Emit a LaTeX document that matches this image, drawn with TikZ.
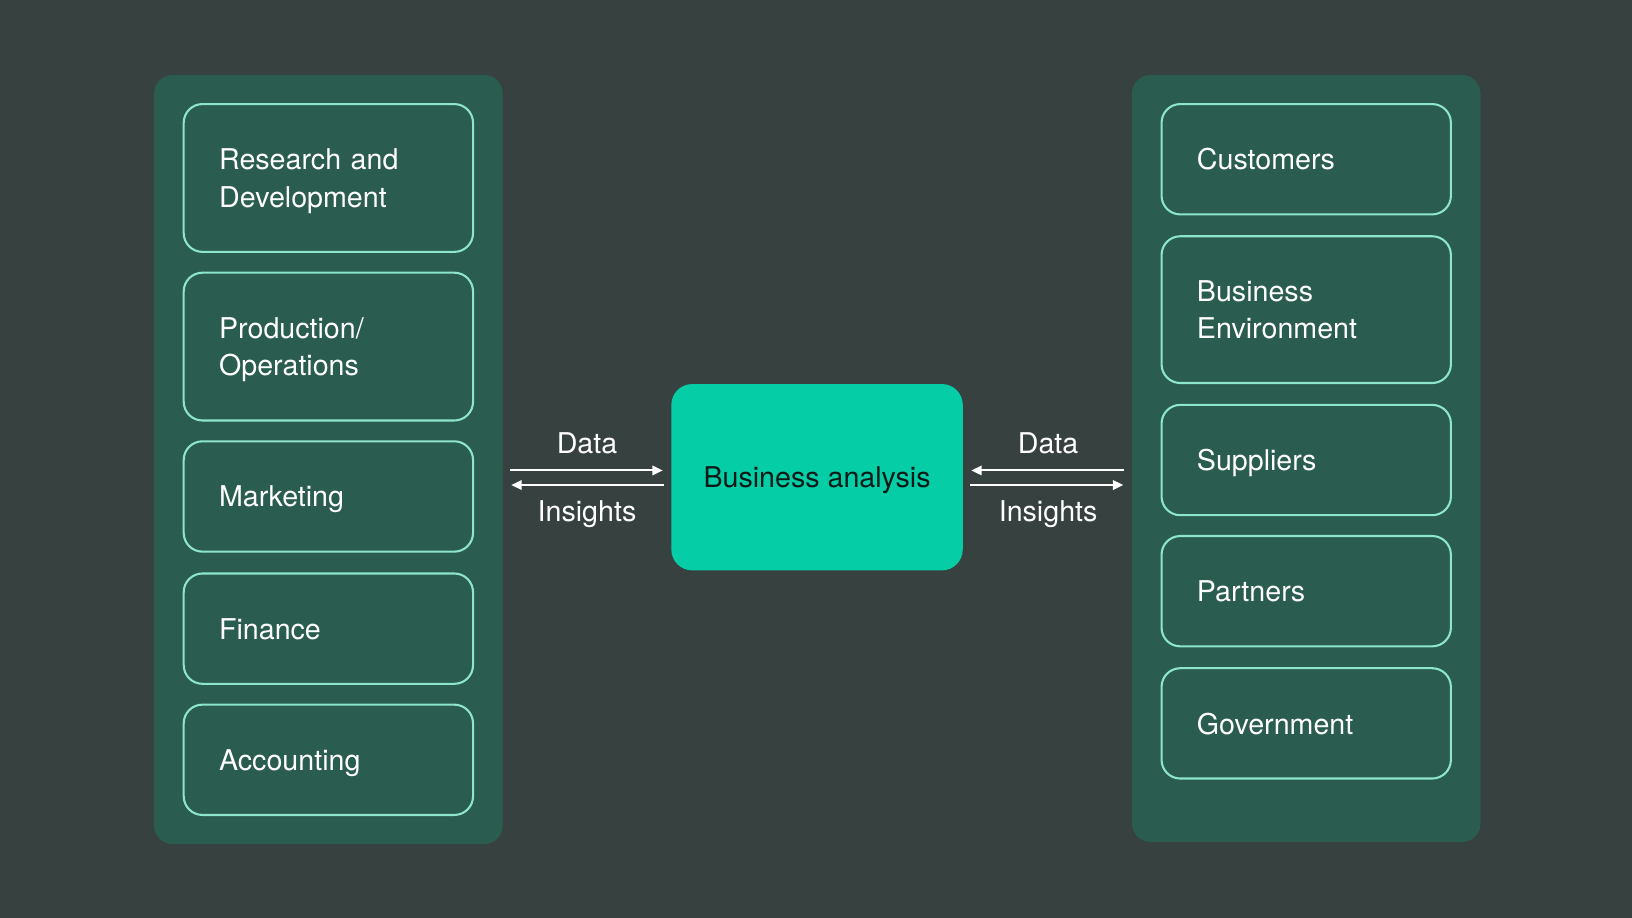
\documentclass[tikz,border=0pt]{standalone}
\usepackage{fontspec}
\setmainfont{TeX Gyre Heros}
\usetikzlibrary{arrows.meta}
\definecolor{bgdark}{HTML}{374140}
\definecolor{panelgreen}{HTML}{2A5C50}
\definecolor{mintline}{HTML}{8EE6CA}
\definecolor{tealfill}{HTML}{05CEA6}
\definecolor{inktext}{HTML}{0B1A17}
\tikzset{
  panel/.style={fill=panelgreen, rounded corners=18pt, minimum width=335pt, minimum height=739pt},
  unitbox/.style={draw=mintline, line width=2pt, rounded corners=18pt, text=white, align=left,
    text width=210pt, inner xsep=34pt, inner ysep=2pt, text depth=0pt, font=\fontsize{27.5}{36}\selectfont},
  twolines/.style={minimum height=142pt, text depth=36pt},
  flowlabel/.style={text=white, anchor=base, font=\fontsize{27.5}{36}\selectfont},
  flow/.style={draw=white, line width=2pt, -{Triangle[length=10pt,width=9pt]}}
}
\begin{document}
\begin{tikzpicture}[x=1pt,y=-1pt]
            \fill[bgdark] (0,0) rectangle (1568,882);
            \useasboundingbox (0,0) rectangle (1568,882);

            \node[panel] (leftpanel) at (315.5,441.5) {};
            \node[panel, minimum height=737pt] (rightpanel) at (1255,440.5) {};

            \begin{scope}[every node/.style={unitbox, minimum height=106pt}]
                \node[twolines] (rnd) at (315.5,171) {Research and\\Development};
                \node[twolines] (prod) at (315.5,333) {Production/\\Operations};
                \node (mkt) at (315.5,477) {Marketing};
                \node (fin) at (315.5,604) {Finance};
                \node (acc) at (315.5,730) {Accounting};

                \node (cust) at (1255,153) {Customers};
                \node[twolines, minimum height=141pt] (env) at (1255,297.5) {Business\\Environment};
                \node (supp) at (1255,442) {Suppliers};
                \node (part) at (1255,568) {Partners};
                \node (gov) at (1255,695) {Government};
            \end{scope}

            \node[fill=tealfill, rounded corners=20pt, minimum width=280pt, minimum height=179pt, text depth=0pt,
                  text=inktext, font=\fontsize{27.5}{36}\selectfont] (ba) at (785,458.5) {Business analysis};

            \coordinate (baup) at ([yshift=6.5pt]ba.west);
            \coordinate (badown) at ([yshift=-7.5pt]ba.west);
            \coordinate (baupr) at ([yshift=6.5pt]ba.east);
            \coordinate (badownr) at ([yshift=-7.5pt]ba.east);

            \begin{scope}[shorten <=7pt, shorten >=8pt]
                \draw [flow] (leftpanel.east |- baup) -- (baup);
                \draw [flow] (badown) -- (leftpanel.east |- badown);
                \draw [flow] (rightpanel.west |- baupr) -- (baupr);
                \draw [flow] (badownr) -- (rightpanel.west |- badownr);
            \end{scope}

            \node[flowlabel] (ldata) at (564,436) {Data};
            \node[flowlabel] (linsights) at (564,501) {Insights};
            \node[flowlabel] (rdata) at (1007,436) {Data};
            \node[flowlabel] (rinsights) at (1007,501) {Insights};
\end{tikzpicture}
\end{document}
